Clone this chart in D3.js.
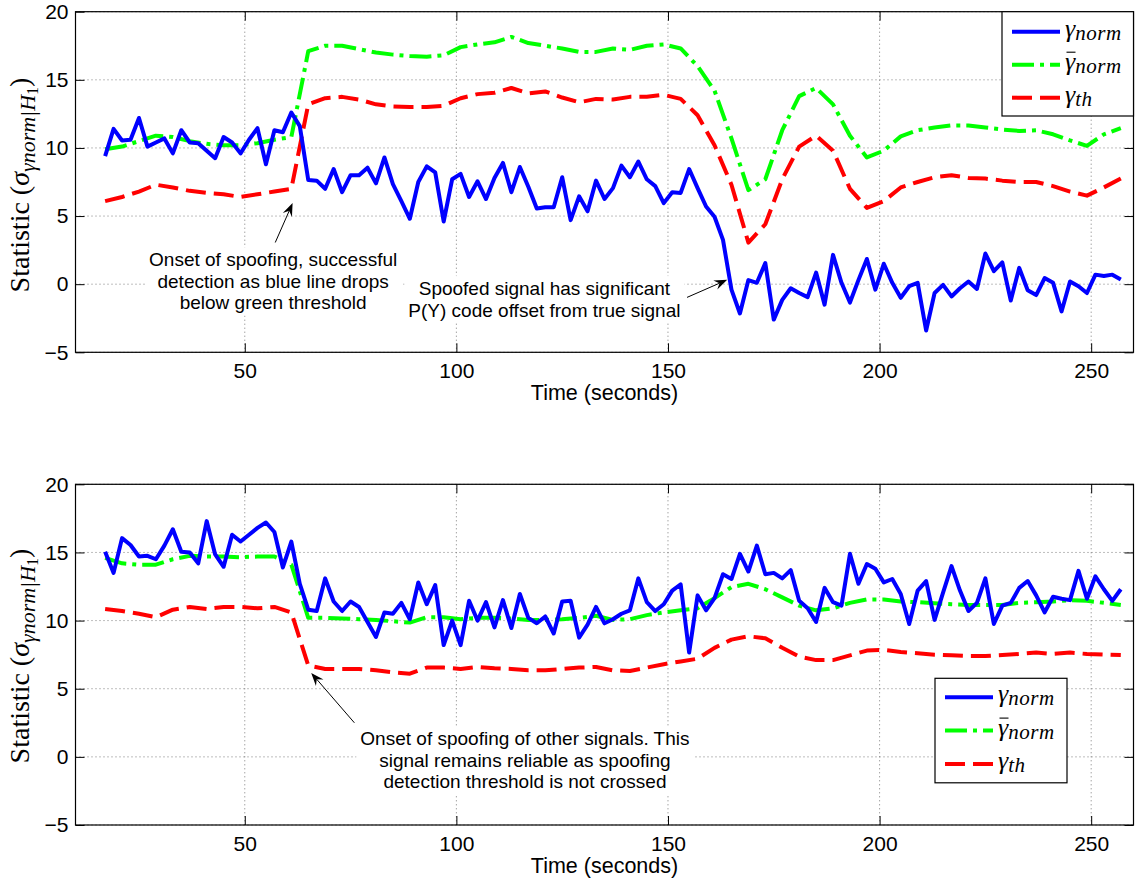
<!DOCTYPE html>
<html><head><meta charset="utf-8">
<script src="https://cdn.jsdelivr.net/npm/d3@7/dist/d3.min.js"></script>
<style>body{margin:0;background:#fff}svg{display:block}</style>
</head><body><svg id="c" width="1135" height="882"></svg>
<script>
// ---- data ----
const timeFine = [17,19,21,23,25,27,29,31,33,35,37,39,41,43,45,47,49,51,53,55,57,59,61,63,65,67,69,71,73,75,77,79,81,83,85,87,89,91,93,95,97,99,101,103,105,107,109,111,113,115,117,119,121,123,125,127,129,131,133,135,137,139,141,143,145,147,149,151,153,155,157,159,161,163,165,167,169,171,173,175,177,179,181,183,185,187,189,191,193,195,197,199,201,203,205,207,209,211,213,215,217,219,221,223,225,227,229,231,233,235,237,239,241,243,245,247,249,251,253,255,257];
const timeCoarse = [17,21,25,29,33,37,41,45,49,53,57,61,65,69,73,77,81,85,89,93,97,101,105,109,113,117,121,125,129,133,137,141,145,149,153,157,161,165,169,173,177,181,185,189,193,197,201,205,209,213,217,221,225,229,233,237,241,245,249,253,257];

const topNorm = [9.4,11.4,10.55,10.6,12.2,10.1,10.4,10.7,9.6,11.3,
10.4,10.35,9.8,9.25,10.8,10.4,9.6,10.6,11.45,8.8,
11.3,11.15,12.6,11.6,7.65,7.6,7.0,8.45,6.75,8.0,
8.0,8.55,7.4,9.3,7.35,6.1,4.8,7.5,8.65,8.2,
4.6,7.7,8.1,6.4,7.55,6.25,7.8,8.9,6.75,8.6,
7.15,5.55,5.65,5.65,7.85,4.7,6.45,5.35,7.6,6.25,
7.05,8.7,7.85,9.0,7.7,7.2,5.95,6.75,6.7,8.45,
7.05,5.7,4.95,3.25,-0.4,-2.15,0.3,0.1,1.55,-2.6,
-1.15,-0.3,-0.65,-0.95,0.85,-1.5,2.15,0.1,-1.35,0.3,
1.85,-0.4,1.5,0.1,-1.0,-0.15,0.1,-3.4,-0.65,-0.05,
-0.9,-0.3,0.2,-0.35,2.25,0.95,1.6,-1.2,1.2,-0.45,
-0.8,0.45,0.1,-2.0,0.2,-0.15,-0.65,0.7,0.6,0.7,
0.35];
const topMean = [9.9,10.1,10.5,10.9,10.8,10.5,10.3,10.2,10.2,10.35,
10.6,10.8,17.1,17.5,17.5,17.25,17.0,16.85,16.75,16.7,
16.8,17.4,17.6,17.75,18.15,17.7,17.5,17.3,17.05,17.05,
17.3,17.2,17.5,17.6,17.3,16.0,14.2,10.7,6.9,7.7,
11.3,13.8,14.4,13.2,10.9,9.3,9.8,10.85,11.3,11.5,
11.65,11.65,11.5,11.35,11.25,11.3,11.0,10.55,10.15,11.0,
11.45];
const topTh = [6.1,6.4,6.8,7.3,7.1,6.85,6.7,6.6,6.4,6.6,
6.8,7.0,13.2,13.65,13.75,13.55,13.2,13.05,13.0,13.0,
13.1,13.65,13.95,14.05,14.4,14.0,14.15,13.7,13.35,13.6,
13.55,13.75,13.75,13.9,13.6,12.4,10.2,7.3,3.05,4.4,
7.7,10.1,10.9,9.8,7.0,5.6,6.1,7.1,7.5,7.85,
8.0,7.8,7.75,7.6,7.5,7.5,7.2,6.8,6.5,7.1,
7.75];

const botNorm = [15.05,13.5,16.05,15.55,14.7,14.75,14.5,15.5,16.7,15.05,
15.0,14.2,17.3,14.85,13.95,16.3,15.8,16.3,16.8,17.2,
16.5,13.9,15.8,12.7,10.8,10.7,13.1,11.4,10.7,11.4,
11.0,9.9,8.8,10.6,10.5,11.3,10.1,12.8,11.2,12.6,
8.2,10.0,8.2,11.45,10.0,11.35,9.5,11.5,9.45,11.95,
10.2,9.8,10.3,9.05,11.4,11.45,8.75,9.7,11.0,9.8,
10.1,10.5,10.75,13.1,11.35,10.7,11.2,12.2,12.65,7.65,
11.85,10.75,11.65,13.4,13.05,14.9,13.6,15.5,13.4,13.5,
13.1,13.7,11.45,10.9,9.9,12.4,11.35,11.1,14.9,12.7,
14.15,13.8,12.8,13.05,11.95,9.75,12.2,12.9,10.05,12.05,
14.0,12.2,10.7,11.3,13.1,9.75,11.1,11.3,12.4,12.9,
11.85,10.6,11.75,11.6,11.5,13.65,11.6,13.25,12.3,11.45,
12.3];
const botMean = [14.6,14.2,14.1,14.1,14.5,14.75,14.7,14.7,14.65,14.7,
14.7,14.1,10.2,10.2,10.15,10.1,10.05,9.95,9.85,10.25,
10.25,10.1,10.2,10.2,10.15,10.05,10.05,10.1,10.2,10.35,
10.05,10.1,10.4,10.6,10.75,10.9,11.65,12.45,12.7,12.3,
11.7,11.1,10.75,10.9,11.3,11.55,11.55,11.4,11.35,11.27,
11.2,11.15,11.15,11.15,11.3,11.35,11.4,11.5,11.45,11.3,
11.15];
const botTh = [10.85,10.7,10.5,10.25,10.8,11.0,10.85,11.0,11.0,10.9,
11.0,10.6,6.7,6.45,6.45,6.45,6.35,6.2,6.1,6.55,
6.55,6.45,6.6,6.5,6.45,6.35,6.35,6.45,6.55,6.6,
6.35,6.3,6.55,6.8,7.0,7.2,8.0,8.6,8.85,8.7,
8.0,7.35,7.1,7.1,7.45,7.8,7.85,7.7,7.6,7.5,
7.45,7.4,7.4,7.47,7.55,7.65,7.55,7.65,7.55,7.5,
7.47];

const xTicks = [50,100,150,200,250];
const yTicks = [-5,0,5,10,15,20];
const xLabel = "Time (seconds)";
const legendNames = [["γ","norm",false],["γ","norm",true],["γ","th",false]];

const topNotes = [
  {lines:["Onset of spoofing, successful","detection as blue line drops","below green threshold"], tx:56.7, ty:1.3, tail:[57.2,3.06], tip:[61.3,5.95]},
  {lines:["Spoofed signal has significant","P(Y) code offset from true signal"], tx:120.8, ty:-0.8, tail:[154.5,-0.97], tip:[164.0,0.32]}
];
const botNotes = [
  {lines:["Onset of spoofing of other signals. This","signal remains reliable as spoofing","detection threshold is not crossed"], tx:116.2, ty:0.85, tail:[75.9,2.5], tip:[65.7,6.16]}
];

// ---- drawing ----
const svg = d3.select('#c');
const x = d3.scaleLinear().domain([10,260]).range([75.5,1133.5]);
const SANS = "'Liberation Sans', Arial, Helvetica, sans-serif";
const SERIF = "'Liberation Serif', 'Times New Roman', serif";
const styles = {
  norm:{color:"#0000ff", dash:null},
  mean:{color:"#00ff00", dash:"22,6,4,6"},
  th:{color:"#ff0000", dash:"20,8"}
};

function drawPanel(cfg){
  const g = svg.append('g');
  const y = d3.scaleLinear().domain([-5,20]).range([cfg.yBottom, cfg.yTop]);
  const L = x.range()[0], R = x.range()[1], B = y(-5), T = y(20);

  // grid
  g.append('g').selectAll('line').data(xTicks).join('line')
    .attr('x1',d=>x(d)).attr('x2',d=>x(d)).attr('y1',T).attr('y2',B)
    .attr('stroke','#6e6e6e').attr('stroke-width',0.9).attr('stroke-dasharray','1,3');
  g.append('g').selectAll('line').data(yTicks).join('line')
    .attr('x1',L).attr('x2',R).attr('y1',d=>y(d)).attr('y2',d=>y(d))
    .attr('stroke','#6e6e6e').attr('stroke-width',0.9).attr('stroke-dasharray','1,3');

  // series
  const series = [
    {vals:cfg.th, t:timeCoarse, st:styles.th},
    {vals:cfg.mean, t:timeCoarse, st:styles.mean},
    {vals:cfg.norm, t:timeFine, st:styles.norm}
  ];
  series.forEach(s=>{
    const ln = d3.line().x((d,i)=>x(s.t[i])).y(d=>y(d));
    g.append('path').attr('d', ln(s.vals)).attr('fill','none')
      .attr('stroke', s.st.color).attr('stroke-width',4)
      .attr('stroke-linejoin','round')
      .attr('stroke-dasharray', s.st.dash);
  });

  // axes (inward ticks on all four sides)
  const axB = g.append('g').attr('transform',`translate(0,${B})`)
    .call(d3.axisBottom(x).tickValues(xTicks).tickSize(-9).tickPadding(11).tickFormat(d3.format('d')));
  const axT = g.append('g').attr('transform',`translate(0,${T})`)
    .call(d3.axisTop(x).tickValues(xTicks).tickSize(-9).tickFormat(''));
  const axL = g.append('g').attr('transform',`translate(${L},0)`)
    .call(d3.axisLeft(y).tickValues(yTicks).tickSize(-9).tickPadding(7).tickFormat(d=>d<0?"\u2212"+Math.abs(d):d));
  const axR = g.append('g').attr('transform',`translate(${R},0)`)
    .call(d3.axisRight(y).tickValues(yTicks).tickSize(-9).tickFormat(''));
  [axB,axT,axL,axR].forEach(a=>{
    a.select('.domain').remove();
    a.selectAll('.tick line').attr('stroke','#000').attr('stroke-width',1);
    a.selectAll('.tick text').attr('fill','#000').style('font-family',SANS).style('font-size','21px');
  });
  g.append('rect').attr('x',L).attr('y',T).attr('width',R-L).attr('height',B-T)
    .attr('fill','none').attr('stroke','#000').attr('stroke-width',1.2);

  // x label
  g.append('text').attr('x',(L+R)/2).attr('y',cfg.xLabelY).attr('text-anchor','middle')
    .style('font-family',SANS).style('font-size','21.5px').text(xLabel);

  // y label
  const yl = g.append('text').attr('transform',`translate(29,${cfg.yLabelC}) rotate(-90)`)
    .attr('text-anchor','middle').style('font-family',SERIF).style('font-size','28px');
  yl.append('tspan').text('Statistic (');
  yl.append('tspan').style('font-style','italic').text('σ');
  yl.append('tspan').attr('dy',6).style('font-style','italic').style('font-size','22px').text('γnorm|H');
  yl.append('tspan').attr('dy',3).style('font-size','16px').text('1');
  yl.append('tspan').attr('dy',-9).text(')');

  // legend
  const lg = cfg.legend;
  g.append('rect').attr('x',lg.x).attr('y',lg.y).attr('width',lg.w).attr('height',lg.h)
    .attr('fill','#fff').attr('stroke','#000').attr('stroke-width',1.2);
  const keys = [styles.norm, styles.mean, styles.th];
  keys.forEach((st,i)=>{
    const cy = lg.y + lg.first + i*lg.step;
    g.append('line').attr('x1',lg.x+10).attr('x2',lg.x+58).attr('y1',cy).attr('y2',cy)
      .attr('stroke',st.color).attr('stroke-width',4).attr('stroke-dasharray',st.dash);
    const tx = lg.x+63;
    const t = g.append('text').attr('x',tx).attr('y',cy+5).style('font-family',SERIF).style('font-style','italic');
    t.append('tspan').style('font-size','26px').text(legendNames[i][0]);
    t.append('tspan').attr('dy',3).style('font-size','21px').attr('letter-spacing','0.5px').text(legendNames[i][1]);
    if(legendNames[i][2]){
      g.append('line').attr('x1',tx+1.5).attr('x2',tx+10.5).attr('y1',cy-12.5).attr('y2',cy-12.5)
        .attr('stroke','#000').attr('stroke-width',1.1);
    }
  });

  // annotations
  cfg.notes.forEach(n=>{
    const cx = x(n.tx), by = y(n.ty);
    const tg = g.append('g');
    const bg = tg.append('rect').attr('fill','#fff');
    const txt = tg.append('text').attr('text-anchor','middle').style('font-family',SANS).style('font-size','19px');
    n.lines.forEach((s,i)=>txt.append('tspan').attr('x',cx).attr('y',by+i*21.5).text(s));
    const bb = txt.node().getBBox();
    bg.attr('x',bb.x-4).attr('y',bb.y-2).attr('width',bb.width+8).attr('height',bb.height+4);
    const x1=x(n.tail[0]), y1=y(n.tail[1]), x2=x(n.tip[0]), y2=y(n.tip[1]);
    const ang = Math.atan2(y2-y1,x2-x1), hl=13, hw=5;
    const bx = x2-hl*Math.cos(ang), byy = y2-hl*Math.sin(ang);
    const nx = x2-hl*0.65*Math.cos(ang), ny = y2-hl*0.65*Math.sin(ang);
    const px = -Math.sin(ang), py = Math.cos(ang);
    g.append('line').attr('x1',x1).attr('y1',y1).attr('x2',nx).attr('y2',ny).attr('stroke','#000').attr('stroke-width',1);
    g.append('path').attr('d',`M${x2},${y2}L${bx+px*hw},${byy+py*hw}L${nx},${ny}L${bx-px*hw},${byy-py*hw}Z`).attr('fill','#000');
  });
}

drawPanel({yTop:11.7, yBottom:352.3, norm:topNorm, mean:topMean, th:topTh, xLabelY:400, yLabelC:185,
  legend:{x:1002, y:11.7, w:131.5, h:104.3, first:20, step:33}, notes:topNotes});
drawPanel({yTop:484.3, yBottom:825, norm:botNorm, mean:botMean, th:botTh, xLabelY:873, yLabelC:656,
  legend:{x:935, y:678.3, w:132, h:104.5, first:19, step:33.3}, notes:botNotes});
</script></body></html>
